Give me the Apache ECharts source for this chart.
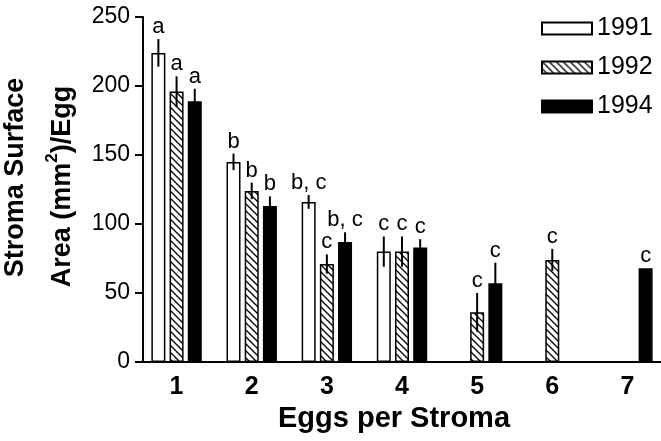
<!DOCTYPE html>
<html>
<head>
<meta charset="utf-8">
<script src="https://cdn.jsdelivr.net/npm/echarts@6/dist/echarts.min.js"></script>
<style>
  html, body { margin: 0; padding: 0; background: #fff; }
  #chart { width: 661px; height: 441px; }
</style>
</head>
<body>
<div id="chart"></div>
<script>
// eggs per stroma
var categories = ['1', '2', '3', '4', '5', '6', '7'];
var legendNames = ['1991', '1992', '1994'];
var yTicks = { min: 0, max: 250, interval: 50 };

// mean area per egg, '-' = no data
var val1991 = [224, 145, 116, 80, '-', '-', '-'];
var val1992 = [196, 124, 71, 80, 36, 74, '-'];
var val1994 = [189, 113, 87, 83, 57, '-', 68];

// error bar half-lengths
var err1991 = [10, 6, 5, 11, null, null, null];
var err1992 = [11, 6, 7, 11, 14, 8, null];
var err1994 = [9, 7, 7, 6, 15, null, 0];

// significance letters
var sig1991 = ['a', 'b', 'b, c', 'c', '', '', ''];
var sig1992 = ['a', 'b', 'c', 'c', 'c', 'c', ''];
var sig1994 = ['a', 'b', 'b, c', 'c', 'c', '', 'c'];

var BAR_W = 14;
var BAR_GAP = 0.3;
var font = '"Liberation Sans", Arial, Helvetica, sans-serif';

// hatch fill for 1992
var hatch = document.createElement('canvas');
hatch.width = 7; hatch.height = 7;
var hctx = hatch.getContext('2d');
hctx.fillStyle = '#fff';
hctx.fillRect(0, 0, 7, 7);
hctx.strokeStyle = '#000';
hctx.lineWidth = 1.3;
hctx.beginPath();
hctx.moveTo(-1, -1); hctx.lineTo(8, 8);
hctx.moveTo(-1, 6); hctx.lineTo(1, 8);
hctx.moveTo(6, -1); hctx.lineTo(8, 1);
hctx.stroke();

var fills = ['#ffffff', { image: hatch, repeat: 'repeat' }, '#000000'];
var values = [val1991, val1992, val1994];
var errs = [err1991, err1992, err1994];
var sigs = [sig1991, sig1992, sig1994];

function errSeries(k) {
  var data = values[k].map(function (v, i) {
    return v === '-' ? [i, '-', 0] : [i, v, errs[k][i] || 0];
  });
  return {
    type: 'custom',
    name: 'err' + legendNames[k],
    z: 5,
    clip: false,
    silent: true,
    data: data,
    renderItem: function (params, api) {
      var v = api.value(1);
      if (isNaN(v)) return null;
      var e = api.value(2);
      var i = params.dataIndex;
      var off = (k - 1) * BAR_W * (1 + BAR_GAP);
      var top = api.coord([i, v + e]);
      var bot = api.coord([i, v - e]);
      var x = top[0] + off;
      var children = [];
      if (e > 0) {
        children.push({
          type: 'line',
          shape: { x1: x, y1: top[1], x2: x, y2: bot[1] },
          style: { stroke: '#000', lineWidth: 2 }
        });
      }
      children.push({
        type: 'text',
        x: x,
        y: top[1] - 1,
        style: {
          text: sigs[k][i],
          align: 'center',
          verticalAlign: 'bottom',
          fontSize: 22,
          fontFamily: font,
          fill: '#000'
        }
      });
      return { type: 'group', children: children };
    }
  };
}

var chart = echarts.init(document.getElementById('chart'));
var option = {
  animation: false,
  backgroundColor: '#fff',
  grid: { left: 139, right: -4, top: 17, bottom: 79, outerBoundsMode: 'none' },
  legend: {
    data: legendNames,
    orient: 'vertical',
    left: 541,
    top: 16,
    padding: 0,
    itemWidth: 50,
    itemHeight: 12,
    itemGap: 14,
    icon: 'rect',
    textStyle: { fontSize: 25, fontFamily: font, color: '#000' }
  },
  xAxis: {
    type: 'category',
    data: categories,
    name: 'Eggs per Stroma',
    nameLocation: 'middle',
    nameGap: 39,
    nameTextStyle: { fontSize: 29, fontWeight: 'bold', fontFamily: font, color: '#000', padding: [0, 16, 0, 0] },
    axisLine: { lineStyle: { color: '#000', width: 2 } },
    axisTick: { show: false },
    axisLabel: { fontSize: 25, fontWeight: 'bold', fontFamily: font, color: '#000', margin: 13 }
  },
  yAxis: {
    type: 'value',
    min: yTicks.min,
    max: yTicks.max,
    interval: yTicks.interval,
    offset: -4,
    name: '{l1|Stroma Surface}\n{l2|Area (mm}{sup|2}{t|)/Egg}',
    nameLocation: 'middle',
    nameRotate: 90,
    nameGap: 57,
    nameMoveOverlap: false,
    nameTextStyle: {
      color: '#000',
      rich: {
        l1: { fontSize: 27, fontWeight: 'bold', fontFamily: font, lineHeight: 47, padding: [0, 0, 0, 24] },
        l2: { fontSize: 27, fontWeight: 'bold', fontFamily: font, lineHeight: 47, padding: [0, 0, 0, 6] },
        t: { fontSize: 27, fontWeight: 'bold', fontFamily: font, lineHeight: 47 },
        sup: { fontSize: 17, fontWeight: 'bold', fontFamily: font, lineHeight: 20, padding: [0, 0, 20, 0] }
      }
    },
    splitLine: { show: false },
    axisLine: { show: true, lineStyle: { color: '#000', width: 2 } },
    axisTick: { show: true, length: 8, lineStyle: { color: '#000', width: 2 } },
    axisLabel: { fontSize: 23, fontFamily: font, color: '#000', margin: 13 }
  },
  series: [0, 1, 2].map(function (k) {
    return {
      name: legendNames[k],
      type: 'bar',
      barWidth: BAR_W,
      barGap: (BAR_GAP * 100) + '%',
      data: values[k],
      itemStyle: { color: fills[k], borderColor: '#000', borderWidth: 1.5 }
    };
  }).concat([0, 1, 2].map(errSeries))
};
chart.setOption(option);
</script>
</body>
</html>
